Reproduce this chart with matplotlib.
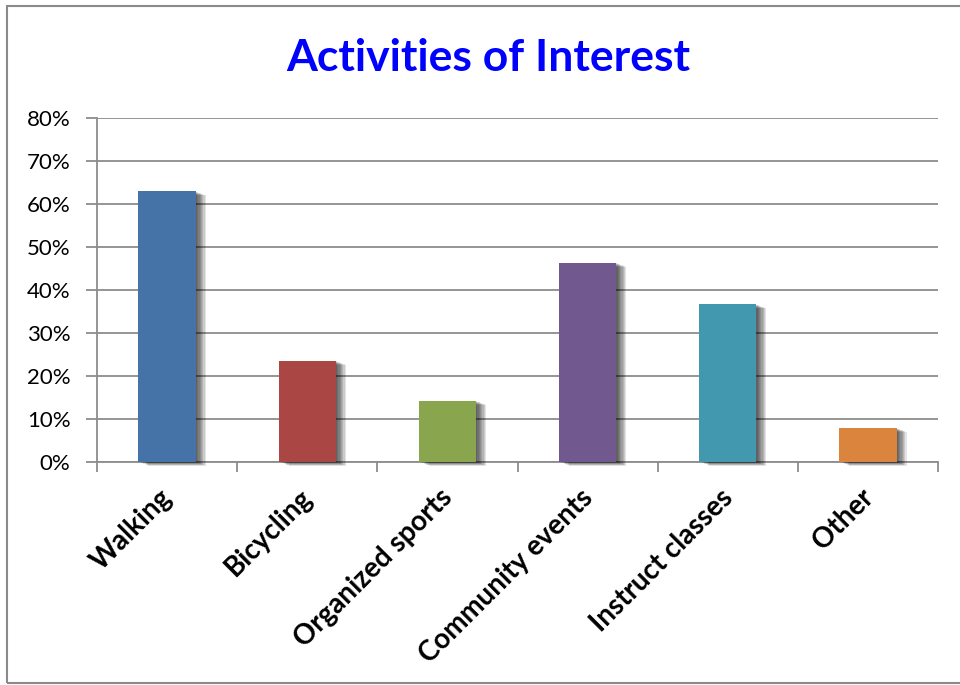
import numpy as np
import matplotlib.pyplot as plt
import matplotlib.patheffects as pe
import matplotlib.transforms as mtransforms
from matplotlib.patches import Rectangle

categories = ['Walking', 'Bicycling', 'Organized sports', 'Community events',
              'Instruct classes', 'Other']
values = [0.63, 0.235, 0.142, 0.463, 0.367, 0.079]
colors = ['#4572A7', '#AA4643', '#89A54E', '#71588F', '#4198AF', '#DB843D']
yticks = [0, 0.1, 0.2, 0.3, 0.4, 0.5, 0.6, 0.7, 0.8]

plt.rcParams['font.family'] = ['Lato', 'DejaVu Sans']

fig = plt.figure(figsize=(9.6, 6.85), dpi=100)
ax = fig.add_axes([97/960, 223/685, 841/960, 344/685])

# outer chart border
fig.patches.append(Rectangle((7/960, 2/685), 1.0, 677/685, transform=fig.transFigure,
                             fill=False, edgecolor='#8a8a8a', linewidth=1.5))

x = np.arange(len(categories))
shadow = [pe.SimplePatchShadow(offset=(k*0.9, -k*0.35), alpha=0.11,
                               shadow_rgbFace='black') for k in range(1, 9)]
bars = ax.bar(x, values, width=0.41, color=colors, zorder=3)
for b in bars:
    b.set_path_effects(shadow + [pe.Normal()])
    b.set_clip_on(False)

ax.set_xlim(-0.5, len(categories) - 0.5)
ax.set_ylim(0, 0.8)
ax.set_yticks(yticks)
ax.set_yticklabels([f'{int(round(t*100))}%' for t in yticks], fontsize=16)
ax.yaxis.grid(True, color='#8c8c8c', linewidth=1.3, zorder=0)
ax.set_axisbelow(True)

ax.set_xticks(x)
ax.set_xticklabels(categories, rotation=45, ha='right', rotation_mode='anchor',
                   fontsize=20, fontweight='bold')
ax.tick_params(axis='x', length=0, pad=14)
shift = mtransforms.ScaledTranslation(-8/100, -3/100, fig.dpi_scale_trans)
for lab in ax.get_xticklabels():
    lab.set_transform(lab.get_transform() + shift)
# boundary tick marks on x axis
ax.set_xticks(np.arange(len(categories) + 1) - 0.5, minor=True)
ax.tick_params(axis='x', which='minor', length=7, color='#8c8c8c', width=1.3)
ax.tick_params(axis='y', length=8, color='#8c8c8c', width=1.3, pad=11)

for s in ['top', 'right']:
    ax.spines[s].set_visible(False)
for s in ['left', 'bottom']:
    ax.spines[s].set_color('#8c8c8c')
    ax.spines[s].set_linewidth(1.3)

fig.text(488/960, 1 - 58/685, 'Activities of Interest', ha='center', va='center',
         fontsize=32, fontweight='bold', color='#0000FF')

fig.savefig('out.png', dpi=100)
